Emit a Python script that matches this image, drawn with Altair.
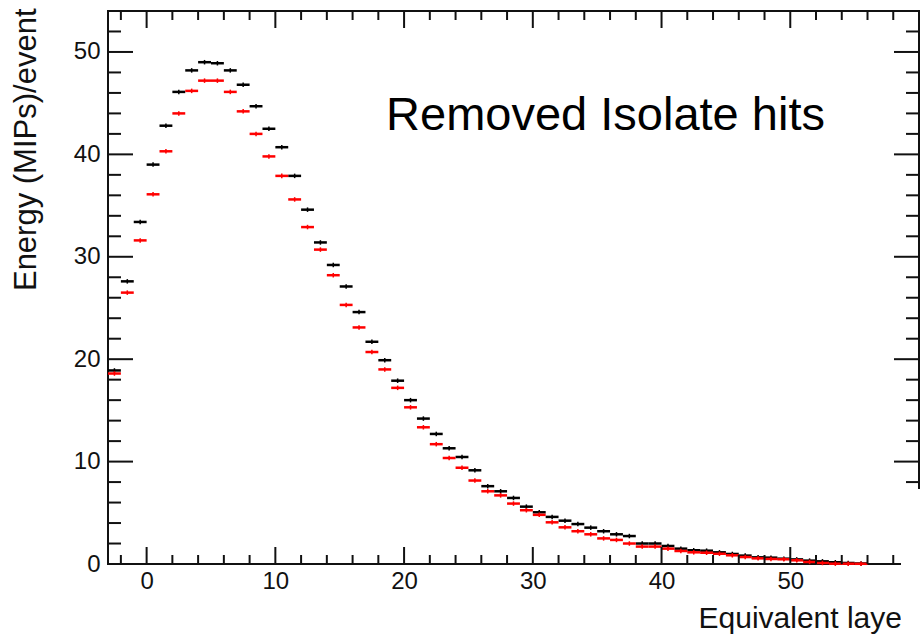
import altair as alt
import pandas as pd

# ---- data ----
bin_low = [-3, -2, -1, 0, 1, 2, 3, 4, 5, 6, 7, 8, 9, 10, 11, 12, 13, 14, 15, 16,
           17, 18, 19, 20, 21, 22, 23, 24, 25, 26, 27, 28, 29, 30, 31, 32, 33, 34, 35, 36,
           37, 38, 39, 40, 41, 42, 43, 44, 45, 46, 47, 48, 49, 50, 51, 52, 53, 54, 55]

energy_all = [18.9, 27.6, 33.4, 39.0, 42.8, 46.1, 48.2, 49.0, 48.9, 48.2,
              46.8, 44.7, 42.5, 40.7, 37.9, 34.6, 31.4, 29.2, 27.1, 24.6,
              21.7, 19.9, 17.9, 16.0, 14.2, 12.7, 11.3, 10.45, 9.15, 7.6,
              7.1, 6.45, 5.6, 5.05, 4.6, 4.23, 3.9, 3.55, 3.2, 2.9,
              2.73, 2.0, 2.0, 1.76, 1.5, 1.34, 1.3, 1.14, 0.98, 0.82,
              0.65, 0.62, 0.52, 0.45, 0.33, 0.26, 0.17, 0.1, 0.05]

energy_removed = [18.6, 26.5, 31.6, 36.1, 40.3, 44.0, 46.2, 47.2, 47.2, 46.1,
                  44.2, 42.0, 39.8, 37.9, 35.6, 32.9, 30.7, 28.2, 25.3, 23.1,
                  20.7, 19.0, 17.2, 15.3, 13.35, 11.7, 10.35, 9.4, 8.15, 7.1,
                  6.7, 5.9, 5.25, 4.8, 4.07, 3.58, 3.2, 2.9, 2.5, 2.35,
                  2.0, 1.7, 1.7, 1.5, 1.27, 1.14, 1.1, 1.0, 0.85, 0.68,
                  0.55, 0.49, 0.46, 0.36, 0.2, 0.1, 0.03, 0.03, 0.02]

err_half = 0.22

x_major = [0, 10, 20, 30, 40, 50]
x_minor = [-2, 2, 4, 6, 8, 12, 14, 16, 18, 22, 24, 26, 28, 32, 34, 36, 38,
           42, 44, 46, 48, 52, 54, 56, 58]
y_major = [0, 10, 20, 30, 40, 50]
y_minor = [2, 4, 6, 8, 12, 14, 16, 18, 22, 24, 26, 28, 32, 34, 36, 38,
           42, 44, 46, 48, 52]

annot_text = ["Removed Isolate hits"]
annot_x = [18.6]
annot_y = [42.4]

# ---- layout ----
W, H = 811, 553
FONT = "Liberation Sans"
xs = alt.Scale(domain=[-3, 60], nice=False, zero=False)
ys = alt.Scale(domain=[0, 54], nice=False, zero=False)

XA = alt.Axis(values=x_major, ticks=False, domain=False, grid=False,
              labelFont=FONT, labelFontSize=24, labelColor="#111",
              labelBaseline="alphabetic", labelPadding=24,
              title="Equivalent layer", titleFont=FONT, titleFontSize=30,
              titleFontWeight="normal", titleColor="#111",
              titleAlign="left", titleBaseline="alphabetic",
              titleX=590, titleY=63)
YA = alt.Axis(values=y_major, ticks=False, domain=False, grid=False,
              labelFont=FONT, labelFontSize=24, labelColor="#111",
              labelPadding=8,
              title="Energy (MIPs)/event", titleFont=FONT, titleFontSize=31,
              titleFontWeight="normal", titleColor="#111",
              titleAngle=270, titleAlign="right", titleBaseline="alphabetic",
              titleX=-73, titleY=-3)


def X(field):
    return alt.X(field, scale=xs, axis=XA)


def Y(field):
    return alt.Y(field, scale=ys, axis=YA)


def series_df(vals):
    return pd.DataFrame({"lo": bin_low, "val": vals})


df_all = series_df(energy_all)
df_rem = series_df(energy_removed)


def seg_layer(df, color):
    return alt.Chart(df).transform_calculate(
        hi="datum.lo + 1"
    ).mark_rule(strokeWidth=2.5, color=color).encode(
        x=X("lo:Q"), x2="hi:Q", y=Y("val:Q"))


def err_layer(df, color):
    return alt.Chart(df).transform_calculate(
        c="datum.lo + 0.5",
        e0=f"datum.val - {err_half}",
        e1=f"datum.val + {err_half}",
    ).mark_rule(strokeWidth=1.5, color=color).encode(
        x=X("c:Q"), y=Y("e0:Q"), y2="e1:Q")


def xtick_layer(vals, length):
    d = pd.DataFrame({"v": vals})
    bottom = alt.Chart(d).mark_rule(strokeWidth=2, color="#111").encode(
        x=X("v:Q"), y=alt.value(H), y2=alt.value(H - length))
    top = alt.Chart(d).mark_rule(strokeWidth=2, color="#111").encode(
        x=X("v:Q"), y=alt.value(0), y2=alt.value(length))
    return [bottom, top]


def ytick_layer(vals, length):
    d = pd.DataFrame({"v": vals})
    left = alt.Chart(d).mark_rule(strokeWidth=2, color="#111").encode(
        y=Y("v:Q"), x=alt.value(0), x2=alt.value(length))
    right = alt.Chart(d).mark_rule(strokeWidth=2, color="#111").encode(
        y=Y("v:Q"), x=alt.value(W), x2=alt.value(W - length))
    return [left, right]


annot = alt.Chart(pd.DataFrame({"t": annot_text, "x": annot_x, "y": annot_y})).mark_text(
    align="left", baseline="alphabetic", font=FONT, fontSize=47, color="#000"
).encode(x=X("x:Q"), y=Y("y:Q"), text="t:N")

# white patch covering the lower-right corner, as in the cropped reference
cover = alt.Chart(pd.DataFrame({"k": [0]})).mark_rect(color="white").encode(
    x=alt.value(793), x2=alt.value(812), y=alt.value(478), y2=alt.value(625))

layers = [seg_layer(df_all, "#000000"),
          err_layer(df_all, "#000000"),
          seg_layer(df_rem, "#ff0000"),
          err_layer(df_rem, "#ff0000")]
layers += xtick_layer(x_major, 17) + xtick_layer(x_minor, 9)
layers += ytick_layer(y_major, 25) + ytick_layer(y_minor, 13)
layers += [annot, cover]

chart = alt.layer(*layers).properties(
    width=W, height=H,
    autosize=alt.AutoSizeParams(type="none"),
    padding={"left": 108, "top": 11, "right": 1, "bottom": 70},
    background="white",
).configure_view(stroke="#111", strokeWidth=2)

chart.save("out.html", embed_options={"renderer": "svg", "actions": False})
